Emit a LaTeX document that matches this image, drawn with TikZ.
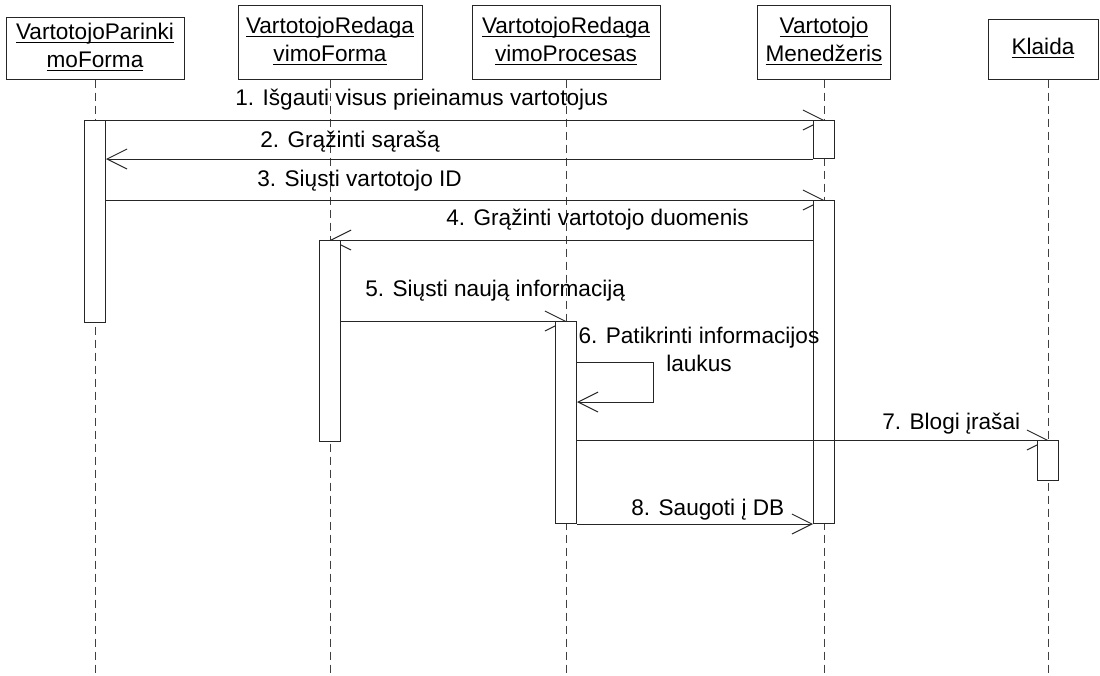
\documentclass[tikz,border=0pt]{standalone}
\usepackage{fontspec}
\setmainfont{Liberation Sans}
\usetikzlibrary{arrows.meta}
\newcommand{\ulx}[1]{\underline{\smash{#1}}\vphantom{Ag}}
\begin{document}
\begin{tikzpicture}[x=0.5pt,y=-0.5pt,
  font=\fontsize{11.3}{13.8}\selectfont,
  obj/.style={draw=black!85, line width=0.5pt, fill=white, inner sep=0pt, align=center},
  life/.style={draw=black!75, line width=0.5pt, dash pattern=on 4pt off 2.5pt},
  act/.style={draw=black!85, line width=0.5pt, fill=white, minimum width=10.5pt, inner sep=0pt, anchor=north},
  msg/.style={draw=black!85, line width=0.5pt, -{Straight Barb[length=10pt,width=10pt]}},
  lbl/.style={inner sep=0pt, anchor=base west}]
\fill[white] (0,0) rectangle (1100,676);
\useasboundingbox (0,0) rectangle (1100,676);
\coordinate (bot) at (0,676);
% objects
\node[obj, minimum width=89pt, minimum height=31pt] (h1) at (95,48) {\ulx{VartotojoParinki}\\\ulx{moForma}};
\node[obj, minimum width=92pt, minimum height=37pt] (h2) at (330,42) {\ulx{VartotojoRedaga}\\\ulx{vimoForma}};
\node[obj, minimum width=94pt, minimum height=37pt] (h3) at (566,42) {\ulx{VartotojoRedaga}\\\ulx{vimoProcesas}};
\node[obj, minimum width=66.5pt, minimum height=37pt] (h4) at (824,42) {\ulx{Vartotojo}\\\ulx{Menedžeris}};
\node[obj, minimum width=55pt, minimum height=30pt] (h5) at (1043,49) {\ulx{Klaida}};
\coordinate (k) at ([xshift=2.5pt]h5.south);
% lifelines
\draw[life] (h1.south) -- (h1.south |- bot);
\draw[life] (h2.south) -- (h2.south |- bot);
\draw[life] (h3.south) -- (h3.south |- bot);
\draw[life] (h4.south) -- (h4.south |- bot);
\draw[life] (k) -- (k |- bot);
% message rows
\coordinate (y1) at (0,120);
\coordinate (y3) at (0,200);
\coordinate (y4) at (0,240);
\coordinate (y5) at (0,321);
\coordinate (y6a) at (0,362);
\coordinate (y6b) at (0,402);
\coordinate (y7) at (0,440);
\coordinate (x6) at (653,0);
% activations and messages
\node[act, minimum height=101pt] (a1) at (h1.south |- y1) {};
\draw[msg] (a1.north east) -- (h4.south |- y1);
\node[act, minimum height=19pt] (a4a) at (h4.south |- y1) {};
\draw[msg] (a4a.south west) -- (a1.east |- a4a.south);
\draw[msg] (a1.east |- y3) -- (h4.south |- y3);
\node[act, minimum height=161.5pt] (a4b) at (h4.south |- y3) {};
\draw[msg] (a4b.west |- y4) -- (h2.south |- y4);
\node[act, minimum height=100.5pt] (a2) at (h2.south |- y4) {};
\draw[msg] (a2.east |- y5) -- (h3.south |- y5);
\node[act, minimum height=101pt] (a3) at (h3.south |- y5) {};
\draw[msg] (a3.east |- y6a) -- (x6 |- y6a) -- (x6 |- y6b) -- (a3.east |- y6b);
\draw[msg] (a3.east |- y7) -- (k |- y7);
\node[act, minimum height=20pt] (a5) at (k |- y7) {};
\draw[msg] (a3.south east) -- (a4b.west |- a3.south);
% labels
\node[lbl] (t1) at (235,105) {1. Išgauti visus prieinamus vartotojus};
\node[lbl] (t2) at (260,147) {2. Grąžinti sąrašą};
\node[lbl] (t3) at (257,186) {3. Siųsti vartotojo ID};
\node[lbl] (t4) at (446,225) {4. Grąžinti vartotojo duomenis};
\node[lbl] (t5) at (365,296) {5. Siųsti naują informaciją};
\node[inner sep=0pt, align=center, anchor=base] (t6) at (699,371) {6. Patikrinti informacijos\\laukus};
\node[lbl] (t7) at (882,429) {7. Blogi įrašai};
\node[lbl] (t8) at (631,515) {8. Saugoti į DB};
\end{tikzpicture}
\end{document}
